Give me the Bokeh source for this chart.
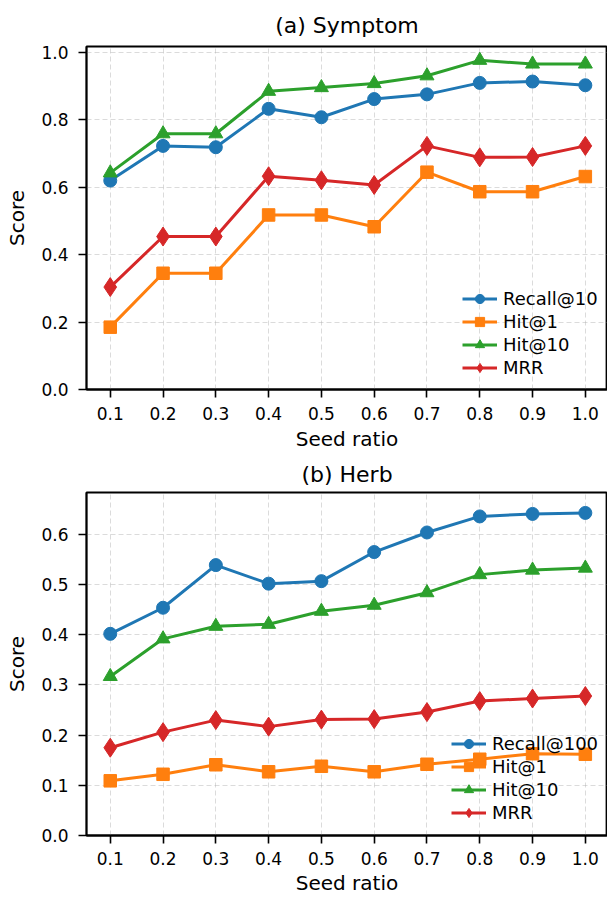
from bokeh.plotting import figure
from bokeh.models import Range1d, FixedTicker, PrintfTickFormatter, Legend, LegendItem
from bokeh.layouts import column
from bokeh.embed import file_html
from bokeh.resources import INLINE

seed_ratio = [0.1, 0.2, 0.3, 0.4, 0.5, 0.6, 0.7, 0.8, 0.9, 1.0]

# (a) Symptom
sym_recall10 = [0.620, 0.723, 0.719, 0.833, 0.808, 0.862, 0.876, 0.910, 0.914, 0.903]
sym_hit1 = [0.185, 0.345, 0.345, 0.518, 0.518, 0.483, 0.645, 0.587, 0.587, 0.632]
sym_hit10 = [0.643, 0.759, 0.759, 0.885, 0.896, 0.908, 0.931, 0.977, 0.966, 0.966]
sym_mrr = [0.304, 0.454, 0.454, 0.633, 0.621, 0.607, 0.723, 0.689, 0.690, 0.723]

# (b) Herb
herb_recall100 = [0.402, 0.454, 0.539, 0.502, 0.507, 0.565, 0.604, 0.636, 0.641, 0.643]
herb_hit1 = [0.109, 0.122, 0.141, 0.127, 0.138, 0.127, 0.142, 0.152, 0.163, 0.162]
herb_hit10 = [0.317, 0.392, 0.417, 0.421, 0.447, 0.459, 0.484, 0.520, 0.529, 0.533]
herb_mrr = [0.175, 0.206, 0.230, 0.217, 0.231, 0.232, 0.246, 0.268, 0.273, 0.278]

sym_yticks = [0.0, 0.2, 0.4, 0.6, 0.8, 1.0]
herb_yticks = [0.0, 0.1, 0.2, 0.3, 0.4, 0.5, 0.6]

COLORS = ["#1f77b4", "#ff7f0e", "#2ca02c", "#d62728"]
MARKERS = ["circle", "square", "triangle", "diamond"]
MSIZES = [13, 12.5, 14, 19]
FONT = "DejaVu Sans"
X0, X1 = 0.055, 1.042


def make(title, ymax, yticks, series, labels, top_b, bot_b, leg_loc,
         title_so, tick_so, label_so):
    p = figure(frame_width=521, frame_height=343,
               x_range=Range1d(X0, X1), y_range=Range1d(0, ymax),
               output_backend="svg", toolbar_location=None,
               min_border_left=86, min_border_right=0,
               min_border_top=top_b, min_border_bottom=bot_b,
               title=title)
    p.title.text_font = FONT
    p.title.text_font_size = "22px"
    p.title.text_font_style = "normal"
    p.title.align = "center"
    p.title.text_color = "black"
    p.title.standoff = title_so

    p.outline_line_color = "black"
    p.outline_line_width = 1.8
    p.outline_line_alpha = 1

    for ax in (p.xaxis[0], p.yaxis[0]):
        ax.formatter = PrintfTickFormatter(format="%.1f")
        ax.major_tick_out = 8
        ax.major_tick_in = 0
        ax.minor_tick_out = 0
        ax.minor_tick_in = 0
        ax.major_tick_line_width = 1.6
        ax.major_tick_line_color = "black"
        ax.axis_line_width = 1.8
        ax.axis_line_color = "black"
        ax.major_label_text_font = FONT
        ax.major_label_text_font_size = "17px"
        ax.major_label_text_color = "black"
        ax.axis_label_text_font = FONT
        ax.axis_label_text_font_size = "20px"
        ax.axis_label_text_font_style = "normal"
        ax.axis_label_text_color = "black"
    p.xaxis[0].major_label_standoff = tick_so
    p.xaxis[0].axis_label_standoff = label_so
    p.yaxis[0].major_label_standoff = 10
    p.yaxis[0].axis_label_standoff = 9

    p.xaxis[0].ticker = FixedTicker(ticks=seed_ratio)
    p.yaxis[0].ticker = FixedTicker(ticks=yticks)
    p.xaxis[0].axis_label = "Seed ratio"
    p.yaxis[0].axis_label = "Score"

    p.xgrid[0].ticker = FixedTicker(ticks=seed_ratio)
    p.ygrid[0].ticker = FixedTicker(ticks=yticks)
    p.grid.grid_line_color = "#b0b0b0"
    p.grid.grid_line_alpha = 0.45
    p.grid.grid_line_dash = "5 3"
    p.grid.grid_line_width = 1

    items = []
    for vals, lab, c, m, s in zip(series, labels, COLORS, MARKERS, MSIZES):
        r1 = p.line(seed_ratio, vals, line_color=c, line_width=3)
        r2 = p.scatter(seed_ratio, vals, marker=m, size=s, fill_color=c,
                       line_color=c, line_width=1)
        items.append(LegendItem(label=lab, renderers=[r1, r2]))

    leg = Legend(items=items, location=leg_loc)
    leg.background_fill_alpha = 0
    leg.border_line_alpha = 0
    leg.padding = 0
    leg.margin = 0
    leg.spacing = 0
    leg.glyph_width = 35
    leg.glyph_height = 23
    leg.label_height = 23
    leg.label_standoff = 6
    leg.label_text_font = FONT
    leg.label_text_font_size = "18px"
    leg.label_text_color = "black"
    p.add_layout(leg)
    return p


p1 = make("(a) Symptom", 1.018, sym_yticks,
          [sym_recall10, sym_hit1, sym_hit10, sym_mrr],
          ["Recall@10", "Hit@1", "Hit@10", "MRR"], 46, 58, (376, 10), 17, 9, 4)
p2 = make("(b) Herb", 0.6837, herb_yticks,
          [herb_recall100, herb_hit1, herb_hit10, herb_mrr],
          ["Recall@100", "Hit@1", "Hit@10", "MRR"], 38, 58, (365, 11), 12, 8, 3)

layout = column(p1, p2, spacing=0)
open("out.html", "w").write(file_html(layout, INLINE))
